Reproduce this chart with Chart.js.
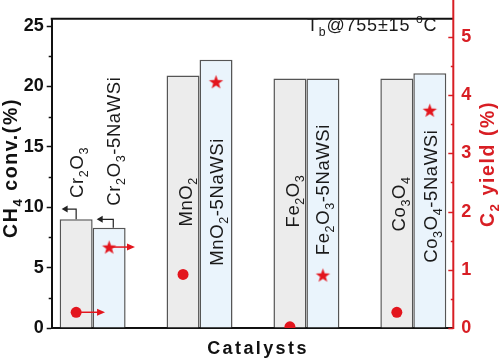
<!DOCTYPE html>
<html>
<head>
<meta charset="utf-8">
<script src="https://cdn.jsdelivr.net/npm/chart.js@4"></script>
<style>
  html, body { margin: 0; padding: 0; background: #fff; }
  #wrap { width: 499px; height: 361px; }
</style>
</head>
<body>
<div id="wrap"><canvas id="chart"></canvas></div>
<script>
// data
const catalysts = ['Cr_2O_3', 'MnO_2', 'Fe_2O_3', 'Co_3O_4'];
const convOxide = [9.0, 20.9, 20.65, 20.65];     // CH4 conv. (%), bare oxide
const convNaWSi = [8.3, 22.2, 20.65, 21.1];      // CH4 conv. (%), oxide-5NaWSi
const yieldOxide = [0.27, 0.92, 0.02, 0.27];     // C2 yield (%), bare oxide
const yieldNaWSi = [1.39, 4.23, 0.91, 3.74];     // C2 yield (%), oxide-5NaWSi
const leftTicks = [0, 5, 10, 15, 20, 25];
const rightTicks = [0, 1, 2, 3, 4, 5];

const FONT = '"Liberation Sans", Arial, sans-serif';
const RED = '#e3151d';
const AXIS_RED = '#d81e24';
const CAT_PCT = 0.617;
const shift = CAT_PCT / 4;   // centre of each bar inside its pair

const positions = catalysts.map((c, i) => i + 1);

// filled five point star used as point style
function makeStar(r, color) {
  const s = Math.ceil(r * 2) + 2;
  const c = document.createElement('canvas');
  c.width = c.height = s;
  const g = c.getContext('2d');
  g.translate(s / 2, s / 2 + r * 0.095);
  g.beginPath();
  for (let k = 0; k < 10; k++) {
    const rad = k % 2 === 0 ? r : r * 0.4;
    const a = -Math.PI / 2 + k * Math.PI / 5;
    g.lineTo(rad * Math.cos(a), rad * Math.sin(a));
  }
  g.closePath();
  g.fillStyle = color;
  g.fill();
  return c;
}

// text with _x subscripts and ^x superscripts
function parseRich(text) {
  const parts = [];
  for (let i = 0; i < text.length; i++) {
    const ch = text[i];
    if ((ch === '_' || ch === '^') && i + 1 < text.length) {
      parts.push({ t: text[i + 1], k: ch });
      i++;
    } else {
      const last = parts[parts.length - 1];
      if (last && last.k === '') last.t += ch;
      else parts.push({ t: ch, k: '' });
    }
  }
  return parts;
}

function richRun(ctx, text, x, y, size, weight, spacing, draw) {
  let cx = x;
  for (const p of parseRich(text)) {
    const s = p.k ? size * 0.68 : size;
    const dy = p.k === '_' ? size * 0.27 : p.k === '^' ? -size * 0.42 : 0;
    ctx.font = `${weight} ${s}px ${FONT}`;
    ctx.letterSpacing = '0px';
    const w = ctx.measureText(p.t).width + spacing * p.t.length;
    if (draw) {
      ctx.letterSpacing = spacing + 'px';
      ctx.fillText(p.t, cx, y + dy);
    }
    cx += w;
  }
  ctx.letterSpacing = '0px';
  return cx - x;
}

// rotated text, reading bottom to top; x = column centre, y = where the text starts
function drawUp(ctx, text, x, y, size, weight, spacing, color, centred) {
  ctx.save();
  ctx.fillStyle = color;
  ctx.textBaseline = 'alphabetic';
  ctx.textAlign = 'left';
  ctx.translate(x + size * 0.36, y);
  ctx.rotate(-Math.PI / 2);
  let start = 0;
  if (centred) start = -richRun(ctx, text, 0, 0, size, weight, spacing, false) / 2;
  richRun(ctx, text, start, 0, size, weight, spacing, true);
  ctx.restore();
}

function arrowHead(ctx, x, y, dir, len, half) {
  ctx.beginPath();
  ctx.moveTo(x, y);
  ctx.lineTo(x - dir * len, y - half);
  ctx.lineTo(x - dir * len, y + half);
  ctx.closePath();
  ctx.fill();
}

// bar labels: text, x centre, y where the text starts (left axis units)
const barLabels = [
  ['Cr_2O_3', 0.844, 10.77],
  ['Cr_2O_3-5NaWSi', 1.19, 10.13],
  ['MnO_2', 1.864, 8.4],
  ['MnO_2-5NaWSi', 2.154, 5.16],
  ['Fe_2O_3', 2.865, 8.32],
  ['Fe_2O_3-5NaWSi', 3.145, 6.03],
  ['Co_3O_4', 3.856, 8.0],
  ['Co_3O_4-5NaWSi', 4.156, 5.4]
];

const decorations = {
  id: 'decorations',
  afterDraw(chart) {
    const ctx = chart.ctx;
    const { left, right, top, bottom } = chart.chartArea;
    const x = chart.scales.x, y = chart.scales.y, y2 = chart.scales.y2;

    ctx.save();
    // top frame line
    ctx.strokeStyle = '#111';
    ctx.lineWidth = 2;
    ctx.beginPath();
    ctx.moveTo(left - 1, top);
    ctx.lineTo(right, top);
    ctx.stroke();

    // left minor ticks
    ctx.lineWidth = 1.5;
    for (let v = 2.5; v < 25.6; v += 5) {
      const py = Math.round(y.getPixelForValue(v)) + 0.5;
      ctx.beginPath();
      ctx.moveTo(left - 3, py);
      ctx.lineTo(left, py);
      ctx.stroke();
    }

    // right red axis with inward ticks
    ctx.strokeStyle = AXIS_RED;
    ctx.lineWidth = 2;
    ctx.beginPath();
    ctx.moveTo(right, 0);
    ctx.lineTo(right, bottom + 1);
    ctx.stroke();
    ctx.lineWidth = 1.5;
    for (let v = 0; v <= 5.01; v += 0.5) {
      const py = Math.round(y2.getPixelForValue(v)) + 0.5;
      const len = Number.isInteger(v) ? 5 : 2.5;
      ctx.beginPath();
      ctx.moveTo(right - len, py);
      ctx.lineTo(right, py);
      ctx.stroke();
    }

    // black arrows: conversion read on the left axis
    ctx.strokeStyle = '#222';
    ctx.fillStyle = '#222';
    ctx.lineWidth = 1.2;
    const blackArrows = [
      [1 - shift, convOxide[0], 9.85, 0.71],
      [1.193, convNaWSi[0], 9.0, 1.038]
    ];
    for (const [ax, v0, v1, tip] of blackArrows) {
      const px = x.getPixelForValue(ax);
      const py0 = y.getPixelForValue(v0);
      const py1 = y.getPixelForValue(v1);
      const pt = x.getPixelForValue(tip);
      ctx.beginPath();
      ctx.moveTo(px, py0);
      ctx.lineTo(px, py1);
      ctx.lineTo(pt + 5, py1);
      ctx.stroke();
      arrowHead(ctx, pt, py1, -1, 6, 3.5);
    }

    // red arrows: yield read on the right axis
    ctx.strokeStyle = RED;
    ctx.fillStyle = RED;
    ctx.lineWidth = 1.5;
    const redArrows = [
      [1 - shift, yieldOxide[0], 1.116],
      [1 + shift, yieldNaWSi[0], 1.396]
    ];
    for (const [ax, v, tip] of redArrows) {
      const px = x.getPixelForValue(ax);
      const py = y2.getPixelForValue(v);
      const pt = x.getPixelForValue(tip);
      ctx.beginPath();
      ctx.moveTo(px, py);
      ctx.lineTo(pt - 6, py);
      ctx.stroke();
      arrowHead(ctx, pt, py, 1, 8, 3.5);
    }

    // bar labels
    for (const [t, lx, ly] of barLabels) {
      drawUp(ctx, t, x.getPixelForValue(lx), y.getPixelForValue(ly), 18.5, 'normal', 0.6, '#1a1a1a', false);
    }

    // axis titles
    drawUp(ctx, 'CH_4 conv.(%)', 10, 168, 19.5, 'bold', 1.6, '#111', true);
    drawUp(ctx, 'C_2 yield (%)', 487, 164, 19.5, 'bold', 1.6, AXIS_RED, true);
    ctx.fillStyle = '#111';
    ctx.textBaseline = 'alphabetic';
    ctx.textAlign = 'left';
    const w = richRun(ctx, 'Catalysts', 0, 0, 18, 'bold', 2.4, false);
    richRun(ctx, 'Catalysts', 258 - w / 2, 354, 18, 'bold', 2.4, true);

    // temperature note
    ctx.fillStyle = '#1a1a1a';
    richRun(ctx, 'T_b@755±15 ^oC', 307, 31, 18, 'normal', 0.8, true);
    ctx.restore();
  }
};

new Chart(document.getElementById('chart'), {
  type: 'bar',
  data: {
    datasets: [
      {
        label: 'oxide',
        data: positions.map((p, i) => ({ x: p, y: convOxide[i] })),
        backgroundColor: '#ececec',
        borderColor: '#555',
        borderWidth: 1.5,
        categoryPercentage: CAT_PCT,
        barPercentage: 1,
        yAxisID: 'y',
        order: 2
      },
      {
        label: 'oxide-5NaWSi',
        data: positions.map((p, i) => ({ x: p, y: convNaWSi[i] })),
        backgroundColor: '#eaf4fc',
        borderColor: '#555',
        borderWidth: 1.5,
        categoryPercentage: CAT_PCT,
        barPercentage: 1,
        yAxisID: 'y',
        order: 2
      },
      {
        type: 'scatter',
        label: 'C2 yield oxide',
        data: positions.map((p, i) => ({ x: p - shift, y: yieldOxide[i] })),
        pointStyle: 'circle',
        pointRadius: 5.5,
        backgroundColor: RED,
        borderWidth: 0,
        yAxisID: 'y2',
        clip: 0,
        order: 1
      },
      {
        type: 'scatter',
        label: 'C2 yield oxide-5NaWSi',
        data: positions.map((p, i) => ({ x: p + shift, y: yieldNaWSi[i] })),
        pointStyle: makeStar(7.5, RED),
        pointRadius: 7.5,
        yAxisID: 'y2',
        clip: 0,
        order: 1
      }
    ]
  },
  options: {
    responsive: true,
    maintainAspectRatio: false,
    animation: false,
    layout: { padding: { top: 3.5, left: 0, right: 0, bottom: 0 } },
    plugins: { legend: { display: false }, tooltip: { enabled: false } },
    scales: {
      x: {
        type: 'linear',
        min: 0.617,
        max: 4.374,
        offset: false,
        z: 1,
        ticks: { display: false, stepSize: 1, includeBounds: false },
        grid: { display: false },
        border: { display: true, color: '#111', width: 2 },
        afterFit: s => { s.height = 33; }
      },
      y: {
        position: 'left',
        min: 0,
        max: 25.6,
        z: 1,
        afterBuildTicks: s => { s.ticks = leftTicks.map(v => ({ value: v })); },
        ticks: { color: '#111', padding: 3, font: { family: FONT, size: 18, weight: 'bold' } },
        grid: { drawOnChartArea: false, drawTicks: true, tickLength: 5, tickColor: '#111', tickWidth: 1.5 },
        border: { display: true, color: '#111', width: 2 },
        afterFit: s => { s.width = 51.7; }
      },
      y2: {
        position: 'right',
        min: 0,
        max: 5.31,
        afterBuildTicks: s => { s.ticks = rightTicks.map(v => ({ value: v })); },
        ticks: { color: AXIS_RED, padding: 8, font: { family: FONT, size: 18, weight: 'bold' } },
        grid: { drawOnChartArea: false, drawTicks: false },
        border: { display: false },
        afterFit: s => { s.width = 45.7; }
      }
    }
  },
  plugins: [decorations]
});
</script>
</body>
</html>
